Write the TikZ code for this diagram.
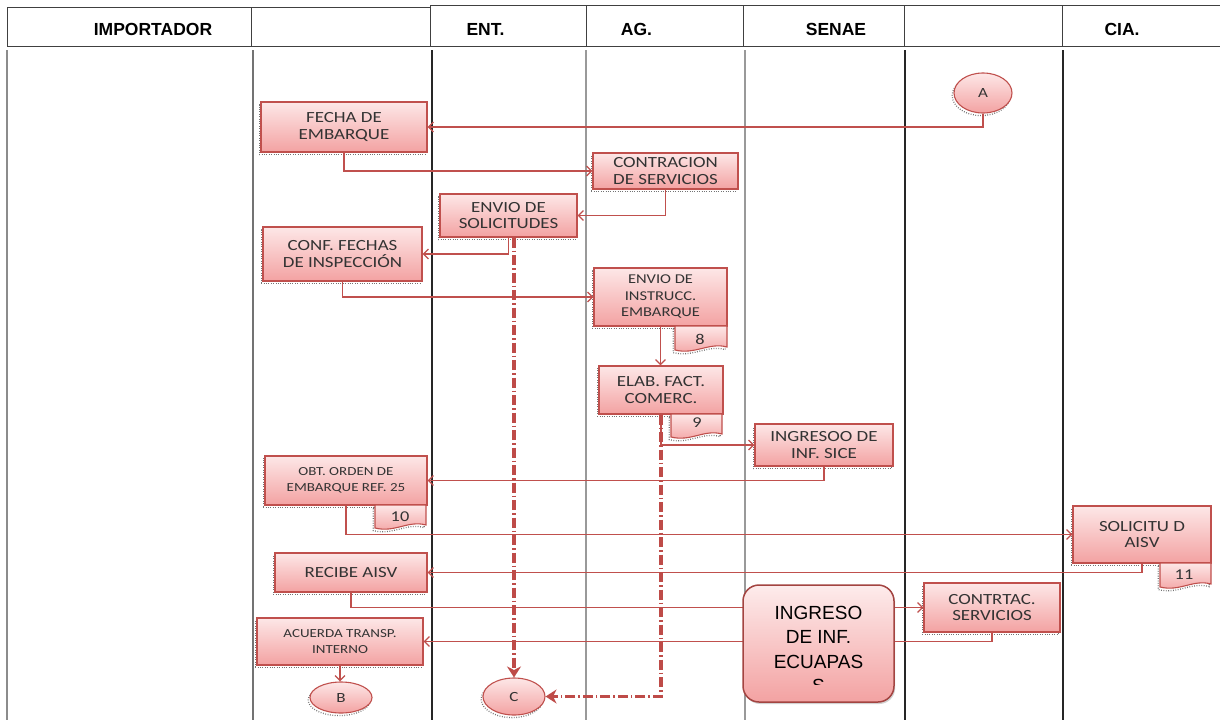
\documentclass[tikz,border=0pt]{standalone}
\usepackage{fontspec}
\usetikzlibrary{arrows.meta,shapes.geometric,shadows,calc}
\newfontfamily\hdrfont{Liberation Sans}
\newfontfamily\boxfont[FakeStretch=1.22]{Carlito}
\newfontfamily\bigfont{Liberation Sans}
\definecolor{boxline}{HTML}{C0504D}
\definecolor{boxtop}{HTML}{FDE7E7}
\definecolor{boxbot}{HTML}{F3A2A2}
\definecolor{laneg}{HTML}{8C8C8C}
\definecolor{lanek}{HTML}{262626}
\definecolor{inktxt}{HTML}{333333}
\definecolor{dashred}{HTML}{BE4B48}

\tikzset{
  fuzz/.style={preaction={draw=black!55, line width=1.3pt,
      dash pattern=on 0.8pt off 1.6pt,
      transform canvas={shift={(-1.8pt,-2.6pt)}}}},
  proc/.style={rectangle, draw=boxline, line width=1.1pt,
      top color=boxtop, bottom color=boxbot, fuzz,
      align=center, inner sep=0pt, text=inktxt,
      font=\boxfont\fontsize{15.5}{16.5}\selectfont},
  procsmall/.style={proc, font=\boxfont\fontsize{13.5}{16.5}\selectfont},
  proctiny/.style={proc, font=\boxfont\fontsize{12.3}{16}\selectfont},
  oval/.style={ellipse, draw=boxline, line width=1.1pt,
      top color=boxtop, bottom color=boxbot, fuzz, inner sep=0pt,
      text=inktxt, font=\boxfont\fontsize{14}{14}\selectfont},
  tabshape/.style={draw=boxline, line width=1.1pt,
      top color=boxtop, bottom color=boxbot, fuzz},
  tabnum/.style={inner sep=0pt, text=inktxt,
      font=\boxfont\fontsize{15}{15}\selectfont},
  hdr/.style={inner sep=0pt, font=\hdrfont\bfseries\fontsize{17.5}{20}\selectfont},
  hcell/.style={draw=black!75, line width=1pt},
  lanegrey/.style={draw=laneg, line width=2pt},
  laneblack/.style={draw=lanek, line width=1.6pt},
  flow/.style={draw=boxline, line width=1.3pt,
      -{Straight Barb[length=5pt,width=10pt]}},
  flowx/.style={draw=dashred, line width=3.6pt,
      dash pattern=on 10pt off 3pt on 1.5pt off 3pt,
      -{Stealth[length=11pt,width=14pt]}},
  ecubox/.style={rectangle, rounded corners=16pt, draw=boxline!85!black,
      line width=1.5pt, top color=boxtop!80!white, bottom color=boxbot,
      drop shadow={shadow xshift=1.2pt, shadow yshift=-2pt, fill=black!35, opacity=0.5},
      inner sep=0pt}
}

% document-shaped tab with a wavy lower edge: x0,y0,x1,y1
\newcommand\doctab[4]{%
  \path[tabshape] (#1,#2) -- (#3,#2) -- (#3,{#4-3})
    .. controls ({#3-18},{#4-8}) and ({#1+20},{#4+5}) .. (#1,#4) -- cycle;}

\begin{document}
\begin{tikzpicture}[x=1pt,y=-1pt]
\useasboundingbox (0,0) rectangle (1220,720);
\fill[white] (0,0) rectangle (1220,720);

% header row
\draw[hcell] (7,7) rectangle (251,46);
\draw[hcell] (251,7) rectangle (430,46);
\draw[hcell] (430,5) rectangle (1220,46);
\foreach \xx in {586,743,904,1062} \draw[hcell] (\xx,5) -- (\xx,46);
\node[hdr] (hImp) at (153,29) {IMPORTADOR};
\node[hdr] (hEnt) at (485.5,29) {ENT.};
\node[hdr] (hAg) at (636.5,29) {AG.};
\node[hdr] (hSen) at (836,29) {SENAE};
\node[hdr] (hCia) at (1122,29) {CIA.};

% swim lanes
\draw[lanegrey] (7,50) -- (7,720);
\draw[lanegrey, line width=2.6pt, draw=black!55] (253,50) -- (253,720);
\draw[laneblack, line width=2pt] (432,50) -- (432,720);
\draw[lanegrey, draw=black!40] (586,50) -- (586,720);
\draw[lanegrey, draw=black!40] (745,50) -- (745,720);
\draw[laneblack] (905,50) -- (905,720);
\draw[laneblack] (1063,50) -- (1063,720);

% process boxes
\node[oval, minimum width=58, minimum height=40] (a) at (983,93) {A};
\node[proc, minimum width=166, minimum height=50] (fecha) at (344,127) {FECHA DE\\EMBARQUE};
\node[proc, minimum width=145, minimum height=36] (contr) at (665.5,171) {CONTRACION\\DE SERVICIOS};
\node[proc, minimum width=137, minimum height=43] (envio) at (508.5,215.5) {ENVIO DE\\SOLICITUDES};
\node[proc, minimum width=159, minimum height=54] (conf) at (342.5,254) {CONF. FECHAS\\DE INSPECCIÓN};
\node[procsmall, minimum width=133, minimum height=58] (instr) at (660.5,297) {ENVIO DE\\INSTRUCC.\\EMBARQUE};
\node[proc, minimum width=124, minimum height=48] (elab) at (661,390) {ELAB. FACT.\\COMERC.};
\node[proc, minimum width=138, minimum height=42] (sice) at (824,445) {INGRESOO DE\\INF. SICE};
\node[proctiny, minimum width=162, minimum height=49] (obt) at (346,480.5) {OBT. ORDEN DE\\EMBARQUE REF. 25};
\node[proc, minimum width=138, minimum height=57] (solic) at (1142,534.5) {SOLICITU D\\AISV};
\node[proc, minimum width=152, minimum height=39] (recibe) at (351,572.5) {RECIBE AISV};
\node[proc, minimum width=136, minimum height=49] (contrtac) at (992,607.5) {CONTRTAC.\\SERVICIOS};
\node[proctiny, minimum width=166, minimum height=47] (acuerda) at (340,641.5) {ACUERDA TRANSP.\\INTERNO};
\node[oval, minimum width=62, minimum height=31] (b) at (341,697.5) {B};
\node[oval, minimum width=62, minimum height=37] (c) at (514,696.5) {C};

% numbered document tabs
\doctab{675}{326}{727}{350}
\node[tabnum] (t8) at (700,339) {8};
\doctab{671}{414}{722}{437}
\node[tabnum] (t9) at (697,423) {9};
\doctab{375}{505}{426}{528}
\node[tabnum] (t10) at (400,517) {10};
\doctab{1160}{563}{1211}{587}
\node[tabnum] (t11) at (1184,575) {11};

% flow connectors
\draw[flow] (a.south) |- (fecha.east);
\draw[flow] (fecha.south) |- (contr.west);
\draw[flow] (contr.south) |- (envio.east);
\draw[flow] (envio.south) |- (conf.east);
\draw[flow] (conf.south) |- (instr.west);
\draw[flow] (instr.south) -- (instr.south |- elab.north);
\draw[flow] (elab.south) |- (sice.west);
\draw[flow] (sice.south) |- (obt.east);
\draw[flow] (obt.south) |- (solic.west);
\draw[flow] (solic.south) |- (recibe.east);
\draw[flow] (recibe.south) |- (contrtac.west);
\draw[flow] (contrtac.south) |- (acuerda.east);
\draw[flow] (acuerda.south) -- (acuerda.south |- b.north);

% heavy dashed links to C
\draw[flowx] (c.north |- envio.south) -- (c.north);
\draw[flowx] (elab.south) |- (c.east);

% ECUAPASS entry box, its last line cut off by the box
\node[ecubox, minimum width=151, minimum height=117] (ecu) at (818.5,643.5) {};
\begin{scope}
  \clip (743,585) rectangle (894,684);
  \node[inner sep=0pt, align=center, text=black,
        font=\bigfont\fontsize{19}{24.5}\selectfont] (ecutext) at (818.5,649.5)
        {INGRESO\\DE INF.\\ECUAPAS\\S};
\end{scope}
\end{tikzpicture}
\end{document}
